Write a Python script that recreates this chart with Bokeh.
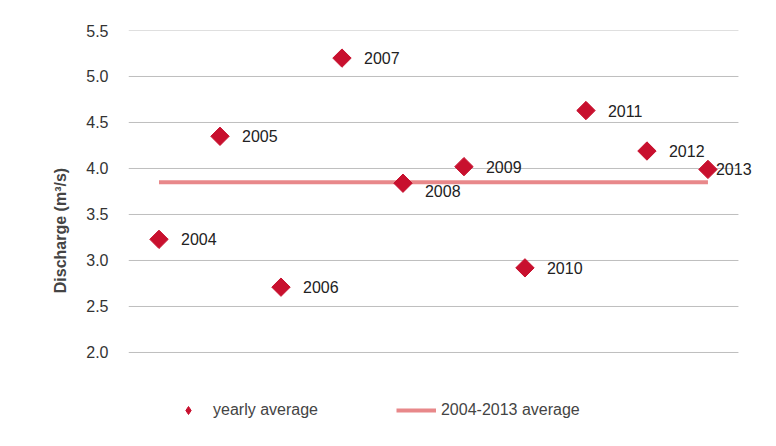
import math
from bokeh.plotting import figure
from bokeh.embed import file_html
from bokeh.resources import INLINE
from bokeh.models import (ColumnDataSource, Legend, LegendItem, Range1d,
                          CustomJSTickFormatter)
from bokeh.core.properties import value

years = ["2004", "2005", "2006", "2007", "2008", "2009", "2010", "2011", "2012", "2013"]
discharge = [3.23, 4.35, 2.71, 5.20, 3.84, 4.02, 2.92, 4.63, 4.19, 3.99]
period_avg = 3.85
y_ticks = [2.0, 2.5, 3.0, 3.5, 4.0, 4.5, 5.0, 5.5]

# label nudges in pixels (Excel placed a couple of labels differently)
label_dx = [22, 22, 22, 22, 22, 22, 22, 22, 22, 8]
label_dy = [0, 0, 0, 0, 8, 0, 0, 0, 0, 0]

xs = list(range(1, len(years) + 1))
src = ColumnDataSource(dict(x=xs, y=discharge, label=years,
                            dx=label_dx, dy=label_dy))

# frame is stretched past the plotting area so labels and legend are not clipped
p = figure(width=766, height=430, output_backend="svg", toolbar_location=None,
           x_range=Range1d(0.5, 10.96), y_range=Range1d(1.152, 5.5),
           min_border_left=128, min_border_right=0, min_border_top=30,
           min_border_bottom=0, outline_line_color=None,
           border_fill_color="white")

# horizontal gridlines only across the category span
p.segment(x0=[0.5] * len(y_ticks), x1=[10.5] * len(y_ticks), y0=y_ticks,
          y1=y_ticks, line_color="#BFBFBF", line_width=1)

avg = p.line([xs[0], xs[-1]], [period_avg, period_avg],
             line_color="#E8888A", line_width=4)
p.scatter("x", "y", source=src, marker="square", size=13,
          angle=math.pi / 4, fill_color="#C8102E", line_color="#C8102E")
p.text("x", "y", text="label", source=src, x_offset="dx", y_offset="dy",
       text_baseline="middle", text_font=value("Liberation Sans"),
       text_font_size="16px", text_color="#222222")

# invisible renderer just for the legend swatch
swatch = p.scatter(x=[float("nan")], y=[float("nan")], marker="diamond",
                   size=17, fill_color="#C8102E", line_color="#C8102E")

p.xaxis.visible = False
p.xgrid.grid_line_color = None
p.ygrid.grid_line_color = None
p.yaxis.ticker = y_ticks
p.yaxis.formatter = CustomJSTickFormatter(code="return tick.toFixed(1)")
p.yaxis.axis_line_color = None
p.yaxis.major_tick_line_color = None
p.yaxis.minor_tick_line_color = None
p.yaxis.major_label_text_font = "Liberation Sans"
p.yaxis.major_label_text_font_size = "16px"
p.yaxis.major_label_text_color = "#333333"
p.yaxis.major_label_standoff = 14
p.yaxis.axis_label = "Discharge (m³/s)"
p.yaxis.axis_label_text_font = "Liberation Sans"
p.yaxis.axis_label_text_font_style = "bold"
p.yaxis.axis_label_text_font_size = "16px"
p.yaxis.axis_label_standoff = 14

legend = Legend(items=[LegendItem(label="yearly average", renderers=[swatch]),
                       LegendItem(label="2004-2013 average", renderers=[avg])],
                orientation="horizontal", location=(40, 10),
                border_line_color=None, background_fill_alpha=0,
                label_text_font="Liberation Sans",
                label_text_font_size="16px", spacing=78, glyph_width=40)
p.add_layout(legend, "center")

open("out.html", "w").write(file_html(p, INLINE))
